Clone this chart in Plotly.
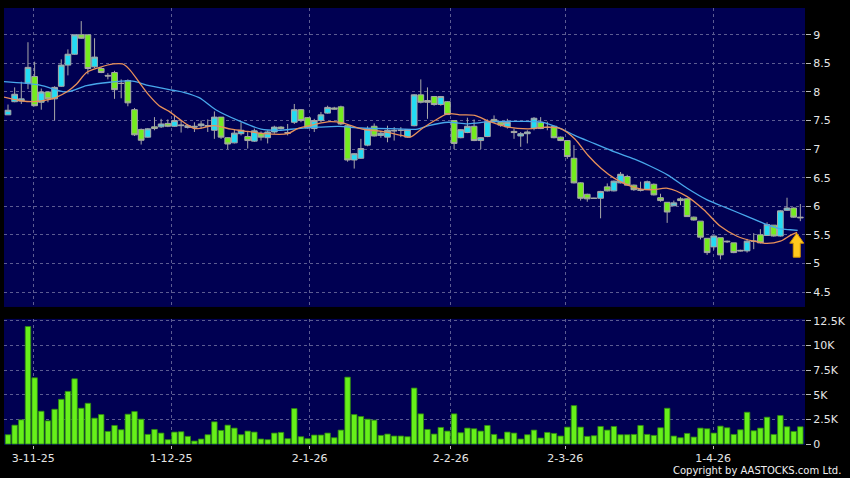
import plotly.graph_objects as go

# ---------------- data ----------------
open_ = [7.60, 7.83, 7.84, 8.155, 8.27, 7.82, 8.00, 7.88, 8.10, 8.47,
         8.66, 9.00, 9.00, 8.44, 8.41, 8.29, 8.34, 8.15, 8.20, 7.69,
         7.345, 7.21, 7.39, 7.39, 7.45, 7.40, 7.41, 7.38, 7.40, 7.41,
         7.40, 7.33, 7.56, 7.20, 7.11, 7.27, 7.22, 7.14, 7.28, 7.20,
         7.30, 7.385, 7.29, 7.47, 7.69, 7.55, 7.36, 7.50, 7.63, 7.72,
         7.74, 7.41, 6.81, 6.84, 7.07, 7.40, 7.24, 7.21, 7.33, 7.33,
         7.21, 7.41, 7.95, 7.85, 7.92, 7.78, 7.83, 7.50, 7.20, 7.29,
         7.40, 7.15, 7.22, 7.52, 7.47, 7.39, 7.31, 7.23, 7.27, 7.36,
         7.47, 7.38, 7.40, 7.21, 7.15, 6.84, 6.41, 6.21, 6.14, 6.14,
         6.34, 6.27, 6.41, 6.52, 6.37, 6.29, 6.30, 6.385, 6.15, 6.07,
         6.01, 6.13, 6.13, 5.81, 5.74, 5.44, 5.29, 5.45, 5.39, 5.36,
         5.23, 5.22, 5.39, 5.50, 5.49, 5.67, 5.48, 5.93, 5.97, 5.81]
high = [7.78, 8.08, 8.18, 8.87, 8.53, 8.06, 8.01, 8.10, 8.57, 8.745,
        9.00, 9.24, 9.00, 8.94, 8.43, 8.33, 8.37, 8.22, 8.22, 7.72,
        7.36, 7.37, 7.56, 7.53, 7.52, 7.60, 7.50, 7.44, 7.47, 7.50,
        7.52, 7.66, 7.56, 7.21, 7.35, 7.47, 7.30, 7.36, 7.31, 7.33,
        7.41, 7.40, 7.44, 7.79, 7.70, 7.56, 7.53, 7.65, 7.76, 7.74,
        7.76, 7.42, 6.93, 7.18, 7.40, 7.45, 7.30, 7.41, 7.385, 7.385,
        7.35, 7.96, 8.22, 8.08, 7.93, 7.93, 7.84, 7.50, 7.35, 7.55,
        7.52, 7.21, 7.52, 7.59, 7.49, 7.53, 7.36, 7.30, 7.33, 7.56,
        7.56, 7.48, 7.41, 7.22, 7.16, 7.07, 6.42, 6.22, 6.15, 6.27,
        6.40, 6.45, 6.60, 6.55, 6.38, 6.43, 6.45, 6.40, 6.22, 6.07,
        6.10, 6.16, 6.14, 5.82, 5.74, 5.44, 5.49, 5.45, 5.40, 5.36,
        5.24, 5.43, 5.53, 5.60, 5.72, 5.67, 5.93, 6.15, 5.98, 6.04]
low = [7.60, 7.82, 7.79, 8.05, 7.75, 7.69, 7.82, 7.50, 8.09, 8.29,
       8.65, 8.93, 8.31, 8.42, 8.33, 8.22, 7.88, 7.89, 7.75, 7.23,
       7.08, 7.20, 7.33, 7.37, 7.385, 7.39, 7.29, 7.36, 7.30, 7.36,
       7.30, 7.18, 7.18, 7.00, 7.10, 7.24, 7.01, 7.125, 7.15, 7.10,
       7.27, 7.34, 7.24, 7.44, 7.47, 7.36, 7.30, 7.47, 7.62, 7.69,
       7.42, 6.78, 6.66, 6.83, 7.05, 7.22, 7.20, 7.12, 7.15, 7.21,
       7.20, 7.40, 7.80, 7.53, 7.76, 7.76, 7.60, 7.00, 7.19, 7.28,
       7.14, 7.00, 7.21, 7.46, 7.39, 7.36, 7.18, 7.04, 7.10, 7.33,
       7.35, 7.33, 7.19, 7.14, 6.83, 6.40, 6.10, 6.08, 6.13, 5.79,
       6.26, 6.26, 6.40, 6.36, 6.27, 6.26, 6.29, 6.19, 6.08, 5.71,
       6.00, 6.02, 5.82, 5.75, 5.42, 5.15, 5.24, 5.07, 5.36, 5.18,
       5.21, 5.19, 5.25, 5.35, 5.48, 5.47, 5.47, 5.92, 5.80, 5.74]
close = [7.68, 7.96, 7.88, 8.43, 7.76, 8.00, 7.88, 8.08, 8.47, 8.66,
         9.00, 8.94, 8.41, 8.61, 8.34, 8.28, 8.04, 8.15, 7.81, 7.25,
         7.155, 7.355, 7.36, 7.44, 7.40, 7.50, 7.42, 7.41, 7.385, 7.44,
         7.41, 7.56, 7.21, 7.09, 7.28, 7.33, 7.15, 7.32, 7.21, 7.30,
         7.385, 7.36, 7.28, 7.69, 7.50, 7.37, 7.50, 7.60, 7.73, 7.70,
         7.44, 6.81, 6.92, 7.01, 7.35, 7.23, 7.28, 7.33, 7.32, 7.33,
         7.345, 7.95, 7.82, 7.82, 7.78, 7.92, 7.605, 7.10, 7.34, 7.40,
         7.15, 7.20, 7.48, 7.48, 7.42, 7.47, 7.29, 7.27, 7.30, 7.54,
         7.36, 7.38, 7.20, 7.15, 6.87, 6.41, 6.14, 6.13, 6.14, 6.26,
         6.27, 6.44, 6.56, 6.37, 6.29, 6.28, 6.43, 6.20, 6.10, 5.90,
         6.06, 6.10, 5.82, 5.76, 5.46, 5.19, 5.48, 5.15, 5.38, 5.19,
         5.22, 5.39, 5.39, 5.36, 5.68, 5.48, 5.92, 5.97, 5.81, 5.80]
volume = [941, 1915, 2453, 11928, 6720, 3326, 2352, 3528, 4536, 5342,
          6619, 3629, 4133, 2621, 2990, 1277, 1882, 1445, 3024, 3293,
          2520, 974, 1478, 1109, 437, 1210, 1243, 773, 302, 504,
          941, 2251, 1378, 1915, 1613, 941, 1310, 1210, 504, 437,
          1109, 1176, 538, 3595, 739, 538, 907, 907, 1109, 638,
          1411, 6787, 2990, 2789, 2520, 2419, 874, 1008, 806, 806,
          739, 5678, 3058, 1478, 1008, 1680, 1310, 3058, 1142, 1613,
          1546, 1310, 1882, 974, 504, 1210, 1109, 504, 941, 1411,
          605, 1176, 1075, 806, 1714, 3898, 1714, 773, 840, 1781,
          1411, 1781, 941, 941, 974, 1882, 974, 874, 1646, 3629,
          806, 638, 1075, 706, 1613, 1546, 1109, 1814, 1646, 974,
          1445, 3226, 1344, 1613, 2722, 974, 2890, 1747, 1277, 1747]

# moving-average lines (x = bar index)
ma_fast_x = [-0.6, 1.8, 3.8, 6.3, 7.3, 8.8, 10.3, 11.8, 13.8, 15.8, 17.2, 18.2,
             19.7, 21.2, 22.7, 24.2, 25.7, 28.0, 31.0, 33.5, 36.0, 38.5, 42.0,
             43.5, 46.0, 48.3, 50.2, 53.2, 56.2, 59.1, 60.4, 62.2, 64.1, 66.1,
             68.1, 70.1, 72.4, 75.1, 78.1, 81.1, 83.1, 85.1, 87.1, 89.1, 91.1,
             93.1, 95.1, 96.8, 99.1, 102.0, 104.5, 107.0, 109.5, 112.0, 114.0,
             116.0, 117.5, 118.5]
ma_fast_y = [7.91, 7.85, 7.83, 7.87, 7.91, 8.00, 8.14, 8.34, 8.43, 8.49, 8.49, 8.40,
             8.17, 7.94, 7.76, 7.66, 7.53, 7.36, 7.41, 7.35, 7.31, 7.27, 7.27,
             7.36, 7.43, 7.48, 7.46, 7.35, 7.31, 7.24, 7.21, 7.36, 7.50, 7.62,
             7.60, 7.59, 7.48, 7.385, 7.356, 7.385, 7.356, 7.183, 6.893, 6.662, 6.488,
             6.372, 6.30, 6.29, 6.315, 6.17, 5.94, 5.65, 5.476, 5.389, 5.35,
             5.39, 5.49, 5.545]
ma_slow_x = [-0.6, 4.8, 8.8, 11.8, 15.3, 18.7, 21.2, 24.7, 26.5, 28.7, 31.2, 34.8,
             38.0, 40.7, 43.5, 46.7, 49.7, 53.0, 58.5, 61.5, 63.2, 66.1, 69.1,
             72.4, 76.1, 80.1, 83.1, 85.1, 88.1, 91.1, 94.1, 96.5, 99.1, 102.0,
             105.0, 108.0, 111.0, 114.0, 116.0, 117.5, 118.6]
ma_slow_y = [8.18, 8.12, 8.00, 8.11, 8.17, 8.19, 8.11, 8.03, 7.99, 7.90, 7.69, 7.49,
             7.35, 7.33, 7.36, 7.385, 7.397, 7.37, 7.356, 7.35, 7.41, 7.47, 7.443,
             7.48, 7.484, 7.472, 7.356, 7.241, 7.096, 6.951, 6.824, 6.70, 6.546, 6.315,
             6.112, 5.968, 5.823, 5.678, 5.603, 5.59, 5.58]

date_labels = ["3-11-25", "1-12-25", "2-1-26", "2-2-26", "2-3-26", "1-4-26"]
date_pos = [3.8, 24.5, 45.3, 66.5, 83.7, 105.9]
price_ticks = [4.5, 5, 5.5, 6, 6.5, 7, 7.5, 8, 8.5, 9]
vol_ticks = [0, 2500, 5000, 7500, 10000, 12500]
vol_labels = ["0", "2.5K", "5K", "7.5K", "10K", "12.5K"]

# ---------------- styles ----------------
UP = "#22dcf4"
DOWN = "#74ec1e"
EDGE = "#a8a8a8"
GRID = "#5c5c92"
NAVY = "#000052"
TXT = "#e6e6e6"
FONT = "DejaVu Sans"

idx = list(range(len(close)))

fig = go.Figure()
fig.add_trace(go.Candlestick(
    x=idx, open=open_, high=high, low=low, close=close,
    increasing=dict(fillcolor=UP, line=dict(color=EDGE, width=1)),
    decreasing=dict(fillcolor=DOWN, line=dict(color=EDGE, width=1)),
    whiskerwidth=0, xaxis="x", yaxis="y", hoverinfo="skip"))
fig.add_trace(go.Scatter(x=ma_slow_x, y=ma_slow_y, mode="lines",
                         line=dict(color="#48a8ec", width=1.3, shape="spline", smoothing=0.8),
                         xaxis="x", yaxis="y", hoverinfo="skip"))
fig.add_trace(go.Scatter(x=ma_fast_x, y=ma_fast_y, mode="lines",
                         line=dict(color="#e8905a", width=1.3, shape="spline", smoothing=0.8),
                         xaxis="x", yaxis="y", hoverinfo="skip"))
fig.add_trace(go.Bar(x=idx, y=volume, marker=dict(color="#66f01a", line=dict(color="#2f8a10", width=0.8)),
                     xaxis="x2", yaxis="y2", hoverinfo="skip"))

# arrow marker at the last bar (decoration)
ax = idx[-1] - 0.54
tip = ma_fast_y[-1] - 0.015
hb, bot, hw, sw = tip - 0.175, tip - 0.42, 1.05, 0.52
fig.add_shape(type="path", xref="x", yref="y",
              path=(f"M {ax} {tip} L {ax+hw} {hb} L {ax+sw} {hb} L {ax+sw} {bot} "
                    f"L {ax-sw} {bot} L {ax-sw} {hb} L {ax-hw} {hb} Z"),
              fillcolor="#ffc81e", line=dict(color="#d99a00", width=1))

axis_common = dict(showline=False, zeroline=False, gridcolor=GRID, griddash="3px,3px", gridwidth=1)

fig.update_layout(
    width=850, height=478,
    margin=dict(l=4, r=42, t=5, b=33),
    paper_bgcolor="black", plot_bgcolor=NAVY,
    showlegend=False, bargap=0.18, boxgap=0.1, boxgroupgap=0.05,
    font=dict(family=FONT, size=11, color=TXT),
    xaxis=dict(domain=[0, 1], anchor="y", range=[-0.6, 119.7], tickvals=date_pos,
               showticklabels=False, ticks="", rangeslider=dict(visible=False), **axis_common),
    xaxis2=dict(domain=[0, 1], anchor="y2", matches="x", range=[-0.6, 119.7],
                tickvals=date_pos, ticktext=date_labels, ticks="outside", ticklen=3,
                tickcolor="#bbbbbb", tickfont=dict(family=FONT, size=11, color=TXT), **axis_common),
    yaxis=dict(domain=[0.3159, 1], anchor="x", range=[4.239, 9.469], side="right",
               tickvals=price_ticks, ticks="outside", ticklen=5, tickcolor="#bbbbbb",
               tickfont=dict(family=FONT, size=11, color=TXT), **axis_common),
    yaxis2=dict(domain=[0, 0.2886], anchor="x2", range=[-100.8, 12701], side="right",
                tickvals=vol_ticks, ticktext=vol_labels, ticks="outside", ticklen=5,
                tickcolor="#bbbbbb", tickfont=dict(family=FONT, size=11, color=TXT), **axis_common),
)
fig.add_annotation(text="Copyright by AASTOCKS.com Ltd.", xref="paper", yref="paper",
                   x=1.0473, y=-0.059, xanchor="right", yanchor="middle", showarrow=False,
                   font=dict(family=FONT, size=10, color="#f0f0f0"))

fig.write_html("out.html", config={"displayModeBar": False},
               post_script="document.body.style.margin='0px';document.body.style.background='black';")
